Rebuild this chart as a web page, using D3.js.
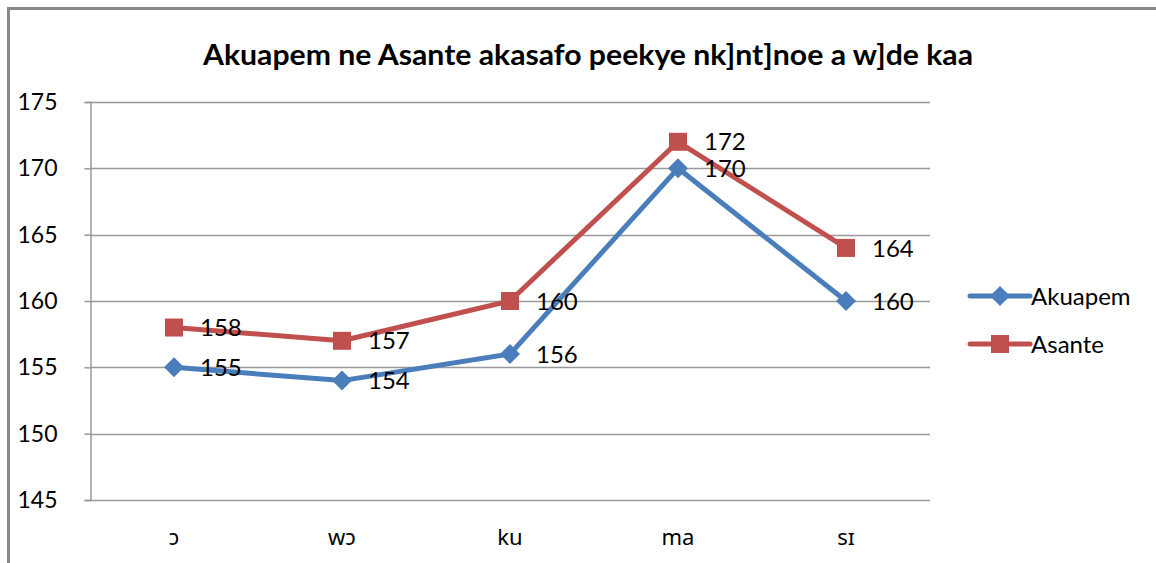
<!DOCTYPE html>
<html>
<head>
<meta charset="utf-8">
<script src="https://cdn.jsdelivr.net/npm/d3@7"></script>
<style>
  body { margin: 0; background: #fff; }
  text { font-family: Lato, "Open Sans", sans-serif; fill: #000; }
</style>
</head>
<body>
<div class="chart"></div>
<script>
// data
var categories = ['ɔ', 'wɔ', 'ku', 'ma', 'sɪ'];
var akuapem = [155, 154, 156, 170, 160];
var asante = [158, 157, 160, 172, 164];
var yTicks = [145, 150, 155, 160, 165, 170, 175];
var title = 'Akuapem ne Asante akasafo peekye nk]nt]noe a w]de kaa';

var series = [
  { name: 'Akuapem', values: akuapem, color: '#4a7ebb', shape: 'diamond' },
  { name: 'Asante', values: asante, color: '#c0504d', shape: 'square' }
];

var W = 1156, H = 563;
var svg = d3.select('.chart').append('svg')
            .attr('width', W)
            .attr('height', H);

// outer frame (left and top edges visible)
svg.append('path')
   .attr('d', 'M8.5,' + H + ' V8.5 H' + W)
   .attr('fill', 'none')
   .attr('stroke', '#888')
   .attr('stroke-width', 3);

// title
svg.append('text')
   .attr('x', 588)
   .attr('y', 65)
   .attr('text-anchor', 'middle')
   .attr('textLength', 770)
   .attr('lengthAdjust', 'spacingAndGlyphs')
   .style('font-weight', 'bold')
   .style('font-size', '29px')
   .text(title);

var x = d3.scaleBand().domain(categories).range([90, 930]);
var y = d3.scaleLinear().domain([145, 175]).range([500, 102]);

// gridlines
svg.append('g')
   .selectAll('line')
   .data(yTicks)
   .enter()
   .append('line')
   .attr('x1', 90).attr('x2', 930)
   .attr('y1', function(d) { return Math.round(y(d)) + 0.5; })
   .attr('y2', function(d) { return Math.round(y(d)) + 0.5; })
   .attr('stroke', '#999')
   .attr('stroke-width', 1.5);

// y axis
var yAxis = svg.append('g')
   .attr('transform', 'translate(90.5,0)')
   .call(d3.axisLeft(y).tickValues(yTicks).tickSize(6).tickPadding(27));
yAxis.selectAll('path, line').attr('stroke', '#999').attr('stroke-width', 1.5);
yAxis.selectAll('text').style('font-size', '23px').style('font-family', 'Lato, sans-serif');

// x labels
svg.append('g')
   .selectAll('text')
   .data(categories)
   .enter()
   .append('text')
   .attr('x', function(d) { return x(d) + x.bandwidth() / 2; })
   .attr('y', 537)
   .attr('dy', '0.35em')
   .attr('text-anchor', 'middle')
   .style('font-size', '22px')
   .style('font-family', '"Noto Sans", "Open Sans", sans-serif')
   .text(function(d) { return d; });

var line = d3.line()
   .x(function(d, i) { return x(categories[i]) + x.bandwidth() / 2; })
   .y(function(d) { return y(d); });

function marker(sel, shape, color, cx, cy) {
  if (shape === 'diamond') {
    sel.append('path')
       .attr('d', 'M' + cx + ',' + (cy - 10) + 'L' + (cx + 10) + ',' + cy +
                  'L' + cx + ',' + (cy + 10) + 'L' + (cx - 10) + ',' + cy + 'Z')
       .attr('fill', color);
  } else {
    sel.append('rect')
       .attr('x', cx - 9).attr('y', cy - 9)
       .attr('width', 18).attr('height', 18)
       .attr('fill', color);
  }
}

series.forEach(function(s) {
  var g = svg.append('g');
  g.append('path')
   .datum(s.values)
   .attr('d', line)
   .attr('fill', 'none')
   .attr('stroke', s.color)
   .attr('stroke-width', 5)
   .attr('stroke-linejoin', 'round');
  s.values.forEach(function(v, i) {
    marker(g, s.shape, s.color, x(categories[i]) + x.bandwidth() / 2, y(v));
  });
});

// data labels
series.forEach(function(s) {
  svg.append('g')
     .selectAll('text')
     .data(s.values)
     .enter()
     .append('text')
     .attr('x', function(d, i) { return x(categories[i]) + x.bandwidth() / 2 + 26; })
     .attr('y', function(d) { return y(d); })
     .attr('dy', '0.36em')
     .style('font-size', '24px')
     .text(function(d) { return d; });
});

// legend
var legend = svg.append('g')
   .selectAll('g')
   .data(series)
   .enter()
   .append('g')
   .attr('transform', function(d, i) { return 'translate(970,' + (296 + i * 48) + ')'; });
legend.append('line')
   .attr('x1', 0).attr('x2', 60)
   .attr('stroke', function(d) { return d.color; })
   .attr('stroke-width', 5)
   .attr('stroke-linecap', 'round');
legend.each(function(d) { marker(d3.select(this), d.shape, d.color, 30, 0); });
legend.append('text')
   .attr('x', 61)
   .attr('dy', '0.36em')
   .style('font-size', '24px')
   .text(function(d) { return d.name; });
</script>
</body>
</html>
